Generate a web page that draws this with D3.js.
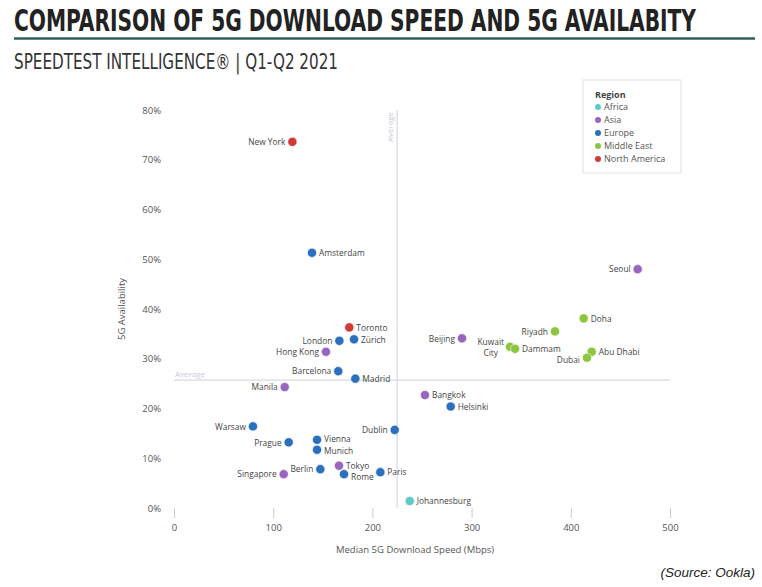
<!DOCTYPE html>
<html>
<head>
<meta charset="utf-8">
<script src="https://cdn.jsdelivr.net/npm/d3@7"></script>
<style>
  body { margin: 0; background: #fff; }
  svg { display: block; }
</style>
</head>
<body>
<script>
// Data
var cities = ["New York", "Amsterdam", "Seoul", "Toronto", "London", "Zürich", "Hong Kong",
  "Barcelona", "Madrid", "Manila", "Warsaw", "Dublin", "Prague", "Vienna", "Munich",
  "Berlin", "Tokyo", "Rome", "Paris", "Singapore", "Johannesburg", "Bangkok", "Helsinki",
  "Beijing", "Kuwait City", "Dammam", "Riyadh", "Doha", "Abu Dhabi", "Dubai"];
var regions = ["North America", "Europe", "Asia", "North America", "Europe", "Europe", "Asia",
  "Europe", "Europe", "Asia", "Europe", "Europe", "Europe", "Europe", "Europe",
  "Europe", "Asia", "Europe", "Europe", "Asia", "Africa", "Asia", "Europe",
  "Asia", "Middle East", "Middle East", "Middle East", "Middle East", "Middle East", "Middle East"];
var speeds = [119.3, 139.1, 467.4, 176.7, 166.7, 181.5, 153.2,
  165.6, 182.8, 111.6, 79.6, 222.5, 115.6, 144.2, 144.2,
  147.5, 166.3, 171.4, 208.0, 110.6, 237.6, 253.0, 278.9,
  290.3, 338.7, 343.8, 384.1, 413.0, 421.1, 416.3];
var availability = [73.6, 51.3, 48.0, 36.3, 33.6, 33.9, 31.4,
  27.5, 26.0, 24.3, 16.4, 15.7, 13.2, 13.7, 11.7,
  7.8, 8.5, 6.8, 7.2, 6.8, 1.4, 22.7, 20.4,
  34.1, 32.4, 32.0, 35.5, 38.1, 31.4, 30.2];
// label side: "l" left, "r" right
var labelSide = ["l", "r", "l", "r", "l", "r", "l",
  "l", "r", "l", "l", "l", "l", "r", "r",
  "l", "r", "r", "r", "l", "r", "r", "r",
  "l", "l", "r", "l", "r", "r", "l"];

var regionNames = ["Africa", "Asia", "Europe", "Middle East", "North America"];
var regionColors = ["#5ecbc3", "#9a66bd", "#2b6fbf", "#8cc63e", "#d23a35"];

var xTicks = [0, 100, 200, 300, 400, 500];
var yTicks = [0, 10, 20, 30, 40, 50, 60, 70, 80];
var avgSpeed = 225;
var avgAvail = 25.7;

var svgWidth = 762, svgHeight = 587;
var margin = { top: 110, right: 92, bottom: 79, left: 174 };
var chartWidth = svgWidth - margin.left - margin.right;
var chartHeight = svgHeight - margin.top - margin.bottom;

var svg = d3.select("body").append("svg")
  .attr("width", svgWidth)
  .attr("height", svgHeight);

// Title block
svg.append("text")
  .attr("x", 14).attr("y", 31)
  .attr("font-family", "'Liberation Sans Narrow', 'DejaVu Sans Condensed', sans-serif")
  .attr("font-weight", "bold")
  .attr("font-size", 31)
  .attr("fill", "#222")
  .attr("textLength", 682)
  .attr("lengthAdjust", "spacingAndGlyphs")
  .text("COMPARISON OF 5G DOWNLOAD SPEED AND 5G AVAILABITY");

svg.append("line")
  .attr("x1", 14).attr("x2", 755)
  .attr("y1", 38.5).attr("y2", 38.5)
  .attr("stroke", "#2f5f5b").attr("stroke-width", 2.5);

svg.append("text")
  .attr("x", 14).attr("y", 69)
  .attr("font-family", "'Liberation Sans Narrow', 'DejaVu Sans Condensed', sans-serif")
  .attr("font-size", 22)
  .attr("fill", "#333")
  .attr("textLength", 324)
  .attr("lengthAdjust", "spacingAndGlyphs")
  .text("SPEEDTEST INTELLIGENCE® | Q1-Q2 2021");

var chartGroup = svg.append("g")
  .attr("transform", `translate(${margin.left}, ${margin.top})`);

var xScale = d3.scaleLinear().domain([0, 500]).range([0, 496]);
var yScale = d3.scaleLinear().domain([0, 80]).range([chartHeight, 0]);
var color = d3.scaleOrdinal().domain(regionNames).range(regionColors);

var font = "'Open Sans', sans-serif";

// x axis: only short tick marks and labels
var bottomAxis = d3.axisBottom(xScale).tickValues(xTicks).tickSize(10).tickPadding(6);
var xAxisG = chartGroup.append("g")
  .attr("transform", `translate(0, ${chartHeight})`)
  .call(bottomAxis);
xAxisG.select(".domain").remove();
xAxisG.selectAll(".tick line").attr("stroke", "#c9cbd3");
xAxisG.selectAll(".tick text").attr("font-family", font).attr("font-size", 9.5).attr("fill", "#555");

var leftAxis = d3.axisLeft(yScale).tickValues(yTicks).tickSize(0).tickPadding(13)
  .tickFormat(d => d + "%");
var yAxisG = chartGroup.append("g").call(leftAxis);
yAxisG.select(".domain").remove();
yAxisG.selectAll(".tick text").attr("font-family", font).attr("font-size", 9.5).attr("fill", "#555");

// average lines
chartGroup.append("line")
  .attr("x1", xScale(avgSpeed)).attr("x2", xScale(avgSpeed))
  .attr("y1", yScale(80)).attr("y2", chartHeight)
  .attr("stroke", "#d8dae2").attr("stroke-width", 1.2);
chartGroup.append("text")
  .attr("transform", `translate(${xScale(avgSpeed) - 4}, ${yScale(80) + 2}) rotate(-90)`)
  .attr("text-anchor", "end")
  .attr("font-family", font).attr("font-size", 8)
  .attr("fill", "#c9cbd8")
  .text("Average");

chartGroup.append("line")
  .attr("x1", 0).attr("x2", 496)
  .attr("y1", yScale(avgAvail)).attr("y2", yScale(avgAvail))
  .attr("stroke", "#d8dae2").attr("stroke-width", 1.2);
chartGroup.append("text")
  .attr("x", 1).attr("y", yScale(avgAvail) - 3)
  .attr("font-family", font).attr("font-size", 8)
  .attr("fill", "#c9cbd8")
  .text("Average");

// axis titles
chartGroup.append("text")
  .attr("transform", `translate(${-49}, ${yScale(40)}) rotate(-90)`)
  .attr("text-anchor", "middle")
  .attr("font-family", font).attr("font-size", 9.5)
  .attr("fill", "#555")
  .text("5G Availability");

chartGroup.append("text")
  .attr("x", xScale(243)).attr("y", chartHeight + 45)
  .attr("text-anchor", "middle")
  .attr("font-family", font).attr("font-size", 9.5)
  .attr("fill", "#555")
  .text("Median 5G Download Speed (Mbps)");

// points
var points = cities.map(function(c, i) {
  return { city: c, region: regions[i], x: speeds[i], y: availability[i], side: labelSide[i] };
});

chartGroup.selectAll("circle.pt")
  .data(points)
  .enter().append("circle")
  .attr("class", "pt")
  .attr("cx", d => xScale(d.x))
  .attr("cy", d => yScale(d.y))
  .attr("r", 4.6)
  .attr("fill", d => color(d.region))
  .attr("stroke", "#fff")
  .attr("stroke-width", 0.6);

var labels = chartGroup.selectAll("text.lbl")
  .data(points)
  .enter().append("text")
  .attr("class", "lbl")
  .attr("x", d => xScale(d.x) + (d.side == "l" ? -7 : 7))
  .attr("y", d => yScale(d.y) + 3.2)
  .attr("text-anchor", d => d.side == "l" ? "end" : "start")
  .attr("font-family", font).attr("font-size", 8.4)
  .attr("fill", "#444");

labels.each(function(d) {
  var t = d3.select(this);
  if (d.city == "Kuwait City") {
    t.attr("y", yScale(d.y) - 1.5);
    t.append("tspan").attr("x", xScale(d.x) - 6).text("Kuwait");
    t.append("tspan").attr("x", xScale(d.x) - 12).attr("dy", 11).text("City");
  } else if (d.city == "Dubai") {
    t.attr("y", yScale(d.y) + 5).text(d.city);
  } else if (d.city == "Rome") {
    t.attr("y", yScale(d.y) + 6).text(d.city);
  } else if (d.city == "Vienna") {
    t.attr("y", yScale(d.y) + 2.5).text(d.city);
  } else if (d.city == "Munich") {
    t.attr("y", yScale(d.y) + 4.5).text(d.city);
  } else {
    t.text(d.city);
  }
});

// legend
var legend = svg.append("g").attr("transform", "translate(583, 80)");
legend.append("rect")
  .attr("width", 98).attr("height", 93)
  .attr("fill", "#fff")
  .attr("stroke", "#e6e7ec").attr("stroke-width", 1.2);
legend.append("text")
  .attr("x", 12).attr("y", 18)
  .attr("font-family", font).attr("font-size", 9)
  .attr("font-weight", "bold")
  .attr("fill", "#444")
  .text("Region");
var items = legend.selectAll("g.item")
  .data(regionNames)
  .enter().append("g")
  .attr("class", "item")
  .attr("transform", (d, i) => `translate(0, ${27 + i * 13})`);
items.append("circle")
  .attr("cx", 15).attr("cy", 0).attr("r", 3)
  .attr("fill", d => color(d));
items.append("text")
  .attr("x", 21).attr("y", 3.3)
  .attr("font-family", font).attr("font-size", 9)
  .attr("fill", "#555")
  .text(d => d);

// source note
svg.append("text")
  .attr("x", 755).attr("y", 577)
  .attr("text-anchor", "end")
  .attr("font-family", "'Liberation Sans', Arial, sans-serif")
  .attr("font-style", "italic")
  .attr("font-size", 13.5)
  .attr("fill", "#222")
  .text("(Source: Ookla)");
</script>
</body>
</html>
